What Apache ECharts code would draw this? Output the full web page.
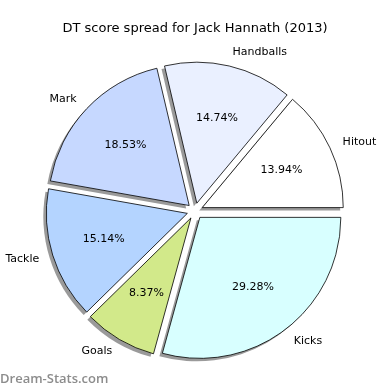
<!DOCTYPE html>
<html>
<head>
<meta charset="utf-8">
<script src="https://cdn.jsdelivr.net/npm/echarts@6/dist/echarts.min.js"></script>
<style>html,body{margin:0;padding:0;background:#fff;}#c{width:390px;height:390px;}</style>
</head>
<body>
<div id="c"></div>
<script>
const categories = ['Hitout', 'Handballs', 'Mark', 'Tackle', 'Goals', 'Kicks'];
const values = [13.94, 14.74, 18.53, 15.14, 8.37, 29.28];
const colors = ['#ffffff', '#eaf0ff', '#c6d8ff', '#b4d4ff', '#d2e98a', '#d8ffff'];

const chart = echarts.init(document.getElementById('c'), null, {renderer: 'canvas'});
const center = [195, 211];
const R = 141;
const off = 8;

const mainData = categories.map((n, i) => ({
  name: n, value: values[i], selected: true,
  itemStyle: {color: colors[i]}
}));
const plainData = categories.map((n, i) => ({
  name: n, value: values[i], selected: true
}));

chart.setOption({
  animation: false,
  textStyle: {fontFamily: 'DejaVu Sans'},
  title: [
    {text: 'DT score spread for Jack Hannath (2013)', left: 'center', top: 17,
     textStyle: {fontFamily: 'DejaVu Sans', fontSize: 13, fontWeight: 'normal', color: '#000'}},
    {text: 'Dream-Stats.com', left: 0, top: 373, padding: 0,
     textStyle: {fontFamily: 'Open Sans', fontSize: 13, fontWeight: 600, color: '#8c8c8c'}}
  ],
  series: [
    {
      type: 'pie', center: [center[0] - 3, center[1] + 3], radius: R, startAngle: 0, clockwise: false,
      selectedMode: 'multiple', selectedOffset: off, avoidLabelOverlap: false,
      silent: true, z: 1,
      emphasis: {disabled: true},
      itemStyle: {color: '#9a9a9a', borderWidth: 0},
      label: {show: false},
      labelLine: {show: false},
      data: plainData
    },
    {
      type: 'pie', center: center, radius: R, startAngle: 0, clockwise: false,
      selectedMode: 'multiple', selectedOffset: off, avoidLabelOverlap: false,
      silent: true, z: 2,
      emphasis: {disabled: true},
      itemStyle: {borderColor: '#000', borderWidth: 0.8},
      label: {show: true, position: 'outside', formatter: '{b}', color: '#000',
        fontFamily: 'DejaVu Sans', fontSize: 11, distanceToLabelLine: 0},
      labelLine: {show: false, length: 14, length2: 0},
      data: mainData
    },
    {
      type: 'pie', center: center, radius: R * 1.2, startAngle: 0, clockwise: false,
      selectedMode: 'multiple', selectedOffset: off, avoidLabelOverlap: false,
      silent: true, z: 5,
      emphasis: {disabled: true},
      itemStyle: {color: 'rgba(0,0,0,0)', borderWidth: 0},
      label: {show: true, position: 'inside', formatter: '{d}%', color: '#000',
        fontFamily: 'DejaVu Sans', fontSize: 11},
      labelLine: {show: false},
      data: plainData
    }
  ]
});
</script>
</body>
</html>
